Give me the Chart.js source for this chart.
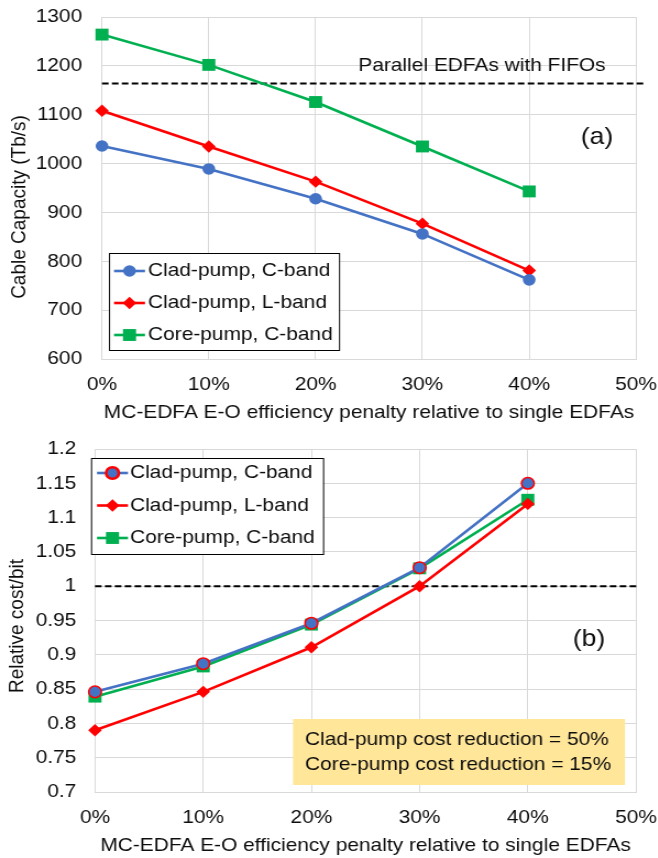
<!DOCTYPE html>
<html>
<head>
<meta charset="utf-8">
<script src="https://cdn.jsdelivr.net/npm/chart.js@4.4.0/dist/chart.umd.min.js"></script>
<style>
  html, body { margin: 0; padding: 0; background: #fff; }
  #wrap { position: relative; width: 658px; height: 858px; overflow: hidden; }
  .stretch { position: absolute; left: 0; transform: scaleX(1.1); transform-origin: 0 0; }
  #boxA { top: 0; }
  #boxB { top: 429px; }
  canvas { display: block; }
</style>
</head>
<body>
<div id="wrap">
  <div class="stretch" id="boxA"><canvas id="chartA" width="598" height="425"></canvas></div>
  <div class="stretch" id="boxB"><canvas id="chartB" width="598" height="429"></canvas></div>
</div>
<script>
// Данные: штраф эффективности MC-EDFA, %
const penalty = [0, 10, 20, 30, 40];
const seriesNames = ['Clad-pump, C-band', 'Clad-pump, L-band', 'Core-pump, C-band'];

// (a) ёмкость кабеля, Тбит/с
const capCladC = [1036, 989, 928, 856, 762];
const capCladL = [1108, 1035, 963, 877, 781];
const capCoreC = [1264, 1202, 1126, 1035, 943];
const capParallel = 1164;
const capRefSpan = [0, 50.8];
const capAxis = [600, 1300, 100];   // min, max, шаг

// (b) относительная стоимость бита
const costCladC = [0.846, 0.887, 0.946, 1.027, 1.150];
const costCladL = [0.790, 0.846, 0.911, 1.000, 1.120];
const costCoreC = [0.839, 0.883, 0.944, 1.026, 1.126];
const costRef = 1.0;
const costRefSpan = [0, 50.2];
const costAxis = [0.7, 1.2, 0.05];

const xAxis = [0, 50, 10];

// картинка чуть растянута по горизонтали, пиксели страницы -> пиксели холста
const SX = 1.1;
const ix = v => v / SX;

const FONT = "'Liberation Sans', Arial, sans-serif";
const TXT = '#0d0d0d';
const GRID = '#d9d9d9';
const BLUE = '#4472c4', RED = '#ff0000', GREEN = '#00b050';

const pts = vals => penalty.map((x, i) => ({x: x, y: vals[i]}));
const refLine = (span, y) => span.map(x => ({x: x, y: y}));

function series(vals, color, style, radius, border) {
    return {
        data: pts(vals),
        borderColor: color,
        backgroundColor: color,
        borderWidth: 2.6,
        pointStyle: style,
        pointRadius: radius,
        pointBackgroundColor: color,
        pointBorderColor: border || color,
        pointBorderWidth: border ? 1.5 : 0,
        tension: 0,
        clip: false
    };
}

// Легенда, подписи и плашка поверх графика
const overlay = {
    id: 'overlay',
    afterDatasetsDraw(chart, args, o) {
        const ctx = chart.ctx;
        ctx.save();
        const L = o.legend;
        ctx.fillStyle = '#fff';
        ctx.fillRect(ix(L.x), L.y, ix(L.w), L.h);
        ctx.strokeStyle = '#000';
        ctx.lineWidth = 1;
        ctx.strokeRect(ix(L.x) + 0.5, L.y + 0.5, ix(L.w), L.h);
        ctx.font = '19px ' + FONT;
        ctx.textBaseline = 'middle';
        seriesNames.forEach((name, i) => {
            const ds = chart.data.datasets[i];
            const y = L.rowY + i * L.rowH;
            ctx.strokeStyle = ds.borderColor;
            ctx.lineWidth = ds.borderWidth;
            ctx.beginPath();
            ctx.moveTo(ix(L.lineX), y);
            ctx.lineTo(ix(L.lineX + L.lineW), y);
            ctx.stroke();
            ctx.fillStyle = ds.pointBackgroundColor;
            ctx.strokeStyle = ds.pointBorderColor;
            Chart.helpers.drawPoint(ctx, {
                pointStyle: ds.pointStyle, radius: ds.pointRadius,
                rotation: 0, borderWidth: ds.pointBorderWidth
            }, ix(L.lineX + L.lineW / 2), y);
            ctx.fillStyle = TXT;
            ctx.textAlign = 'left';
            ctx.fillText(name, ix(L.textX), y);
        });
        if (o.note) {
            const N = o.note;
            ctx.fillStyle = '#ffe699';
            ctx.fillRect(ix(N.x), N.y, ix(N.w), N.h);
            ctx.fillStyle = TXT;
            ctx.font = '19px ' + FONT;
            ctx.textAlign = 'left';
            N.lines.forEach((t, i) => ctx.fillText(t, ix(N.textX), N.lineY + i * N.lineH));
        }
        (o.texts || []).forEach(t => {
            ctx.save();
            ctx.fillStyle = TXT;
            ctx.font = t.size + 'px ' + FONT;
            ctx.textAlign = 'center';
            ctx.translate(ix(t.x), t.y);
            if (t.rot) ctx.rotate(t.rot * Math.PI / 180);
            ctx.fillText(t.text, 0, 0);
            ctx.restore();
        });
        ctx.restore();
    }
};

function buildOptions(yAxis, plotLeft, padTop, yPad, overlayOpts) {
    return {
        responsive: false,
        animation: false,
        events: [],
        layout: {padding: {top: padTop, right: 598 - ix(636), left: 0, bottom: 0}},
        plugins: {legend: {display: false}, tooltip: {enabled: false}, overlay: overlayOpts},
        scales: {
            x: {
                type: 'linear', min: xAxis[0], max: xAxis[1],
                afterFit: s => { s.height = 66; s.paddingLeft = 0; s.paddingRight = 0; },
                ticks: {stepSize: xAxis[2], padding: 14, color: TXT, font: {family: FONT, size: 19},
                    callback: v => v + '%', maxRotation: 0},
                grid: {color: GRID, drawTicks: false},
                border: {color: GRID},
                title: {display: true, text: 'MC-EDFA E-O efficiency penalty relative to single EDFAs',
                    color: TXT, font: {family: FONT, size: 19}, padding: {top: 0, bottom: 1}}
            },
            y: {
                min: yAxis[0], max: yAxis[1],
                afterFit: s => { s.width = ix(plotLeft); s.paddingTop = 0; s.paddingBottom = 0; },
                ticks: {stepSize: yAxis[2], padding: yPad, color: TXT, font: {family: FONT, size: 19},
                    callback: v => String(+v.toFixed(2))},
                grid: {color: GRID, drawTicks: false},
                border: {color: GRID}
            }
        }
    };
}

const refStyle = {
    borderColor: '#000', borderWidth: 2, borderDash: [6, 3],
    pointRadius: 0, fill: false, clip: false
};

new Chart(document.getElementById('chartA'), {
    type: 'line',
    data: {
        datasets: [
            series(capCladC, BLUE, 'circle', 5.8),
            series(capCladL, RED, 'rectRot', 6.2),
            series(capCoreC, GREEN, 'rect', 8.4),
            Object.assign({data: refLine(capRefSpan, capParallel)}, refStyle)
        ]
    },
    options: buildOptions(capAxis, 102, 17, 18, {
        legend: {x: 109, y: 253, w: 230, h: 97, rowY: 271, rowH: 32, lineX: 114, lineW: 31, textX: 148},
        texts: [
            {text: 'Cable Capacity (Tb/s)', x: 20, y: 207, size: 19, rot: -90},
            {text: 'Parallel EDFAs with FIFOs', x: 482, y: 66, size: 19},
            {text: '(a)', x: 597, y: 137, size: 24}
        ]
    }),
    plugins: [overlay]
});

new Chart(document.getElementById('chartB'), {
    type: 'line',
    data: {
        datasets: [
            series(costCladC, BLUE, 'circle', 5.8, RED),
            series(costCladL, RED, 'rectRot', 6.2),
            series(costCoreC, GREEN, 'rect', 8.4),
            Object.assign({data: refLine(costRefSpan, costRef)}, refStyle)
        ]
    },
    options: buildOptions(costAxis, 95, 20, 17, {
        legend: {x: 91, y: 29, w: 232, h: 96, rowY: 44, rowH: 32.5, lineX: 97, lineW: 31, textX: 130},
        note: {x: 293, y: 290, w: 332, h: 66, textX: 305, lineY: 311, lineH: 25,
            lines: ['Clad-pump cost reduction = 50%', 'Core-pump cost reduction = 15%']},
        texts: [
            {text: 'Relative cost/bit', x: 17.5, y: 197, size: 19, rot: -90},
            {text: '(b)', x: 589, y: 210, size: 24}
        ]
    }),
    plugins: [overlay]
});
</script>
</body>
</html>
